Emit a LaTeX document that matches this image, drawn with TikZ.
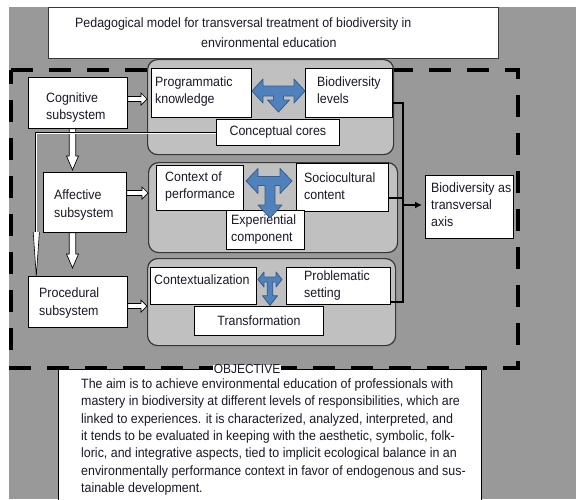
\documentclass[tikz,border=0pt]{standalone}
\usepackage{fontspec}
\setmainfont{Liberation Sans}[FakeStretch=0.92]
\usetikzlibrary{calc,arrows.meta}
\definecolor{bggray}{RGB}{153,153,153}
\definecolor{grpgray}{RGB}{192,192,192}
\definecolor{tfill}{RGB}{79,129,189}
\definecolor{tline}{RGB}{56,93,138}
\definecolor{txt}{RGB}{25,25,40}
\definecolor{edge}{RGB}{55,55,55}
\newcommand\harrow[2]{\draw[hollow] let \p1=(#1), \p2=(#2) in
  (\x1,\y1+2.5pt) -- (\x2-6pt,\y1+2.5pt) -- (\x2-6pt,\y1+6pt) -- (\x2,\y1) --
  (\x2-6pt,\y1-6pt) -- (\x2-6pt,\y1-2.5pt) -- (\x1,\y1-2.5pt) -- cycle;}
\newcommand\varrow[2]{\draw[hollow] let \p1=(#1), \p2=(#2) in
  (\x1-3.3pt,\y1) -- (\x1-3.3pt,\y2+14pt) -- (\x1-6pt,\y2+14pt) -- (\x1,\y2) --
  (\x1+6pt,\y2+14pt) -- (\x1+3.3pt,\y2+14pt) -- (\x1+3.3pt,\y1) -- cycle;}
\begin{document}
\begin{tikzpicture}[x=1pt,y=-1pt,
  font=\fontsize{13.5}{17.3}\selectfont, text=txt,
  box/.style={draw=black, line width=0.8pt, fill=white, inner sep=0pt, anchor=north west},
  group/.style={draw=edge, line width=1.2pt, fill=grpgray, rounded corners=10pt, inner sep=0pt, anchor=north west},
  lbl/.style={anchor=west, align=left, inner sep=0pt},
  clbl/.style={anchor=center, align=center, inner sep=0pt},
  tarrow/.style={fill=tfill, draw=tline, line width=0.8pt, line join=round},
  hollow/.style={fill=white, draw=black, line width=0.7pt},
  link/.style={draw=black, line width=2pt}]
\useasboundingbox (0,0) rectangle (576,499);
\fill[bggray] (9,7) rectangle (576,499);
% title
\node[box, draw=edge, line width=1.3pt, minimum width=450, minimum height=51] (title) at (48,7) {};
\node[lbl] (title1) at (75,24) {Pedagogical model for transversal treatment of biodiversity in};
\node[lbl] (title2) at (201,43) {environmental education};
% objective box
\node[box, line width=1.2pt, minimum width=423, minimum height=131] (obj) at (58,369) {};
% dashed frame
\draw[line width=4pt, dash pattern=on 22pt off 16pt] (11,70) -- (518,70) -- (518,368) -- (11,368) -- cycle;
% groups
\node[group, minimum width=246, minimum height=95] (g1) at (147,59) {};
\node[group, minimum width=249, minimum height=90] (g2) at (148,162) {};
\node[group, minimum width=248, minimum height=87] (g3) at (147,258) {};
% left subsystem boxes
\node[box, minimum width=99, minimum height=51] (cog) at (28,77) {};
\node[box, minimum width=83, minimum height=60] (aff) at (43,172) {};
\node[box, minimum width=99, minimum height=51] (proc) at (28,276) {};
\node[lbl] (tcog) at (46,107.5) {Cognitive\\subsystem};
\node[lbl] (taff) at (54,205) {Affective\\subsystem};
\node[lbl] (tproc) at (39,303) {Procedural\\subsystem};
% hollow arrows
\harrow{cog.east |- 0,99}{g1.west |- 0,99}
\harrow{aff.east |- 0,193}{g2.west |- 0,193}
\harrow{proc.east |- 0,306}{g3.west |- 0,306}
\varrow{cog.south -| 72.5,0}{$(aff.north -| 72.5,0)+(0,-2)$}
\varrow{aff.south -| 72.5,0}{$(proc.north -| 72.5,0)+(0,-8)$}
% group 1
\node[box, minimum width=100, minimum height=49] (pk) at (151,68) {};
\node[box, minimum width=87, minimum height=49] (bl) at (305,68) {};
\node[box, minimum width=123, minimum height=26] (cc) at (216,119) {};
\node[lbl] (tpk) at (155,91.5) {Programmatic\\knowledge};
\node[lbl] (tbl) at (317,90) {Biodiversity\\levels};
\node[clbl] (tcc) at (cc.center) {Conceptual cores};
\draw[tarrow] (252,91) -- (263,79) -- (263,86) -- (294,86) -- (294,79) -- (305,91) -- (294,103)
  -- (294,96) -- (283.5,96) -- (283.5,100) -- (289.5,100) -- (278.5,112) -- (267.5,100)
  -- (273.5,100) -- (273.5,96) -- (263,96) -- (263,103) -- cycle;
% group 2
\node[box, minimum width=87, minimum height=45] (cp) at (156,165) {};
\node[box, minimum width=92, minimum height=48] (sc) at (296,163) {};
\node[box, minimum width=78, minimum height=39] (ec) at (226,210) {};
\node[lbl] (tcp) at (165,186.5) {Context of\\performance};
\node[lbl] (tsc) at (304,186.5) {Sociocultural\\content};
\node[lbl] (tec) at (231,229.5) {Experiential\\component};
\draw[tarrow] (246,181) -- (258,168.5) -- (258,176.5) -- (280,176.5) -- (280,168.5) -- (292,181)
  -- (280,193.5) -- (280,185.5) -- (275,185.5) -- (275,205) -- (282,205) -- (270,218)
  -- (258,205) -- (265,205) -- (265,185.5) -- (258,185.5) -- (258,193.5) -- cycle;
% group 3
\node[box, minimum width=106, minimum height=37] (ctx) at (150,267) {};
\node[box, minimum width=104, minimum height=37] (ps) at (286,267) {};
\node[box, minimum width=129, minimum height=29] (tr) at (194,306) {};
\node[lbl] (tctx) at (154,280) {Contextualization};
\node[lbl] (tps) at (304,285.5) {Problematic\\setting};
\node[clbl] (ttr) at (tr.center) {Transformation};
\draw[tarrow] (258,279.5) -- (264,272) -- (264,277) -- (276,277) -- (276,272) -- (282,279.5)
  -- (276,287) -- (276,282) -- (272.8,282) -- (272.8,295.7) -- (277.5,295.7) -- (270,305.5)
  -- (262.5,295.7) -- (267.2,295.7) -- (267.2,282) -- (264,282) -- (264,287) -- cycle;
% transversal axis
\node[box, minimum width=88, minimum height=63] (bta) at (425,175) {};
\node[lbl] (tbta) at (431,204.5) {Biodiversity as\\transversal\\axis};
\coordinate (bus) at (403,103);
\draw[link] (bl.east |- 0,103) -- (bus) |- (ps.east |- 0,302);
\draw[link] (sc.east |- 0,198) -- (bus |- 0,198);
\draw[line width=1.6pt, -{Latex[length=7pt,width=7pt]}] (bus |- 0,205) -- ($(bta.west |- 0,205)+(-3,0)$);
% thin hollow connector to procedural
\draw[double=white, double distance=1pt, line width=0.6pt] (cc.west |- 0,133) -- (36.3,133) -- (36.3,233);
\fill[white] (33.2,232) -- (39.4,232) -- (proc.north -| 36.3,0) -- cycle;
\draw[line width=0.6pt] (33.2,232) -- (proc.north -| 36.3,0) -- (39.4,232);
% objective
\node[clbl, fill=white, inner xsep=1pt, inner ysep=0pt, font=\fontsize{13}{15}\selectfont] (objlbl) at (247,369.5) {OBJECTIVE};
\node[lbl] (objtxt) at (81,437) {The aim is to achieve environmental education of professionals with\\
mastery in biodiversity at different levels of responsibilities, which are\\
linked to experiences. it is characterized, analyzed, interpreted, and\\
it tends to be evaluated in keeping with the aesthetic, symbolic, folk-\\
loric, and integrative aspects, tied to implicit ecological balance in an\\
environmentally performance context in favor of endogenous and sus-\\
tainable development.};
\end{tikzpicture}
\end{document}
